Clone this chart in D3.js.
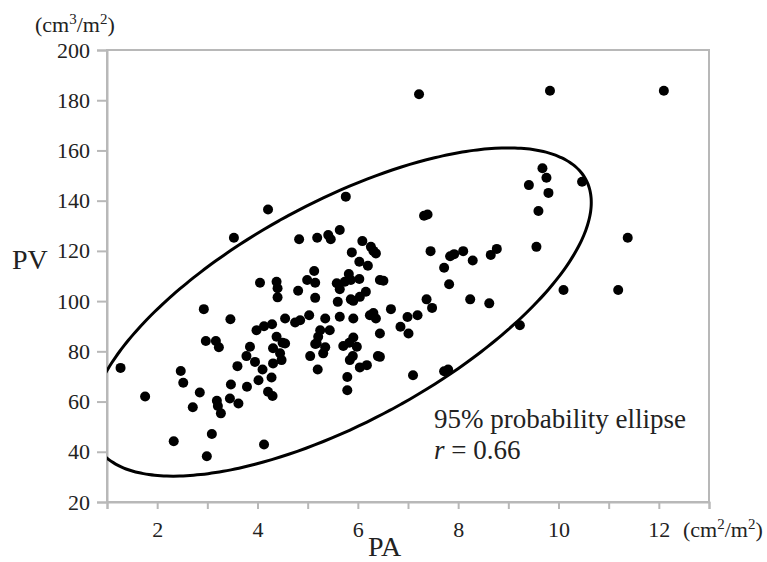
<!DOCTYPE html>
<html>
<head>
<meta charset="utf-8">
<script src="https://cdn.jsdelivr.net/npm/d3@7"></script>
<style>
  body { margin: 0; background: #fff; }
  svg text { font-family: "Liberation Serif", serif; fill: #222; }
</style>
</head>
<body>
<div id="chart"></div>
<script>
// data ///////////////////////////////////////////////////////////////
// PA (cm2/m2) and PV (cm3/m2), one pair per patient
const pa = [
  1.27, 1.76, 2.47, 2.52, 2.33, 2.85, 2.93, 2.97, 3.17, 3.23, 2.71, 3.09, 2.99,
  3.19, 3.21, 3.27, 3.46, 3.47, 3.45, 3.62, 3.60, 3.53, 3.78, 3.95, 3.85, 3.79,
  3.98, 4.13, 4.29, 4.10, 4.02, 4.21, 4.30, 4.28, 4.13, 4.21, 4.05, 4.38, 4.40,
  4.40, 4.31, 4.50, 4.55, 4.45, 4.48, 4.31, 4.38, 4.55, 4.75, 4.81, 4.83, 4.85,
  5.03, 4.99, 5.15, 5.13, 5.15, 5.19, 5.41, 5.46, 5.64, 5.35, 5.25, 5.21, 5.18,
  5.44, 5.15, 5.35, 5.31, 5.05, 5.20, 5.71, 5.83, 5.98, 5.90, 5.84, 6.04, 6.18,
  6.40, 5.79, 5.79, 5.76, 5.91, 5.64, 5.91, 5.60, 5.82, 5.74, 5.58, 5.64, 5.86,
  6.03, 6.16, 6.04, 5.91, 5.86, 5.88, 6.09, 6.26, 6.31, 6.36, 6.03, 6.20, 6.31,
  6.24, 6.36, 6.44, 6.51, 6.44, 6.44, 6.66, 6.85, 7.01, 6.99, 7.19, 7.10, 7.22,
  7.32, 7.39, 7.45, 7.84, 7.92, 8.10, 8.29, 7.72, 8.65, 8.77, 7.82, 7.37, 7.48,
  8.24, 8.62, 7.72, 7.80, 9.23, 9.68, 9.76, 9.41, 9.80, 9.60, 9.56, 9.83, 10.47,
  11.38, 10.10, 11.19, 12.10
];
const pv = [
  73.4, 62.0, 72.2, 67.5, 44.2, 63.6, 96.8, 84.1, 84.1, 81.6, 57.7, 47.1, 38.2,
  60.3, 58.2, 55.3, 92.8, 66.8, 61.2, 59.2, 74.1, 125.2, 78.1, 75.8, 81.8, 65.9,
  88.4, 90.0, 90.8, 72.8, 68.5, 63.9, 62.2, 69.6, 42.9, 136.5, 107.3, 107.7, 105.1,
  101.5, 81.2, 83.4, 83.1, 79.2, 76.5, 75.2, 85.8, 93.1, 91.5, 104.1, 124.6, 92.4,
  94.4, 108.4, 107.3, 112.0, 101.3, 125.2, 126.3, 124.6, 128.3, 93.1, 88.4, 85.8, 83.1,
  88.4, 82.9, 81.6, 79.2, 78.1, 72.8, 82.1, 83.4, 81.8, 78.1, 76.5, 73.6, 74.5,
  78.1, 69.8, 64.5, 141.6, 85.5, 93.8, 93.1, 99.7, 110.8, 107.7, 107.1, 104.7, 108.4,
  108.8, 103.7, 101.7, 100.1, 100.7, 119.4, 123.9, 121.6, 120.0, 119.0, 115.7, 114.1, 95.3,
  94.4, 93.1, 108.4, 108.1, 87.1, 77.8, 96.8, 89.8, 87.1, 93.7, 94.4, 70.5, 182.4,
  134.0, 134.5, 119.9, 117.9, 118.7, 119.9, 116.2, 113.3, 118.4, 120.8, 106.7, 100.7, 97.3,
  100.7, 99.1, 72.1, 72.8, 90.4, 152.9, 149.1, 146.2, 143.1, 135.9, 121.6, 183.8, 147.5,
  125.2, 104.4, 104.4, 183.8
];

// axis ticks
const xTicks = [1, 2, 3, 4, 5, 6, 7, 8, 9, 10, 11, 12, 13];
const xTickLabels = ["", "2", "", "4", "", "6", "", "8", "", "10", "", "12", ""];
const yTicks = [20, 40, 60, 80, 100, 120, 140, 160, 180, 200];

// 95% probability ellipse (bivariate normal)
const meanPA = 5.66, meanPV = 95.65;
const sdPA = 2.04, sdPV = 26.7;
const ellipseRho = 0.668;
const chi2_95 = 5.991;
const rLabel = "0.66";

// layout ///////////////////////////////////////////////////////////////
const width = 767, height = 562;
const plotLeft = 107, plotRight = 709, plotTop = 50, plotBottom = 502;
const axisGrey = "#b8b8b8";
const serif = "'Liberation Serif', serif";

const svg = d3.select("#chart")
  .append("svg")
  .attr("width", width)
  .attr("height", height);

const x = d3.scaleLinear().domain([1, 13]).range([plotLeft, plotRight]);
const y = d3.scaleLinear().domain([20, 200]).range([plotBottom, plotTop]);

// frame
svg.append("rect")
  .attr("x", plotLeft)
  .attr("y", plotTop)
  .attr("width", plotRight - plotLeft)
  .attr("height", plotBottom - plotTop)
  .attr("fill", "none")
  .attr("stroke", axisGrey)
  .attr("stroke-width", 2);

// y axis
const yAxis = svg.append("g")
  .attr("transform", `translate(${plotLeft},0)`)
  .call(d3.axisLeft(y).tickValues(yTicks).tickSize(10).tickPadding(7));
yAxis.select(".domain").attr("stroke", axisGrey).attr("stroke-width", 2);
yAxis.selectAll(".tick line").attr("stroke", axisGrey).attr("stroke-width", 2);
yAxis.selectAll(".tick text")
  .style("font-family", serif)
  .style("font-size", "22px")
  .attr("fill", "#222");

// x axis
const xAxis = svg.append("g")
  .attr("transform", `translate(0,${plotBottom})`)
  .call(d3.axisBottom(x).tickValues(xTicks).tickSize(7).tickPadding(12)
    .tickFormat((d, i) => xTickLabels[i]));
xAxis.select(".domain").attr("stroke", axisGrey).attr("stroke-width", 2);
xAxis.selectAll(".tick line").attr("stroke", axisGrey).attr("stroke-width", 2);
xAxis.selectAll(".tick text")
  .style("font-family", serif)
  .style("font-size", "22px")
  .attr("fill", "#222");

// units with superscripts
function unitLabel(xPos, yPos, power) {
  const t = svg.append("text")
    .attr("x", xPos).attr("y", yPos)
    .style("font-family", serif)
    .style("font-size", "22px");
  t.append("tspan").text("(cm");
  t.append("tspan").attr("dy", -8).style("font-size", "15px").text(power);
  t.append("tspan").attr("dy", 8).text("/m");
  t.append("tspan").attr("dy", -8).style("font-size", "15px").text("2");
  t.append("tspan").attr("dy", 8).text(")");
}
unitLabel(35, 32, "3");
unitLabel(683, 537, "2");

// axis titles
svg.append("text")
  .attr("x", 12).attr("y", 269)
  .style("font-family", serif)
  .style("font-size", "28px")
  .text("PV");

svg.append("text")
  .attr("x", 368).attr("y", 556)
  .style("font-family", serif)
  .style("font-size", "28px")
  .text("PA");

// clip for the ellipse
svg.append("clipPath")
  .attr("id", "plotClip")
  .append("rect")
  .attr("x", plotLeft).attr("y", plotTop)
  .attr("width", plotRight - plotLeft).attr("height", plotBottom - plotTop);

// ellipse
const k = Math.sqrt(chi2_95);
const ellipsePts = d3.range(0, 360, 2).map(deg => {
  const t = deg * Math.PI / 180;
  return [
    meanPA + sdPA * k * Math.cos(t),
    meanPV + sdPV * k * (ellipseRho * Math.cos(t) + Math.sqrt(1 - ellipseRho * ellipseRho) * Math.sin(t))
  ];
});

svg.append("path")
  .datum(ellipsePts)
  .attr("clip-path", "url(#plotClip)")
  .attr("fill", "none")
  .attr("stroke", "#000")
  .attr("stroke-width", 3)
  .attr("d", d3.line().x(d => x(d[0])).y(d => y(d[1])).curve(d3.curveCardinalClosed));

// dots
svg.append("g")
  .selectAll("circle")
  .data(d3.zip(pa, pv))
  .join("circle")
  .attr("cx", d => x(d[0]))
  .attr("cy", d => y(d[1]))
  .attr("r", 5)
  .attr("fill", "#000");

// annotation
svg.append("text")
  .attr("x", 434).attr("y", 428)
  .style("font-family", serif)
  .style("font-size", "27px")
  .text("95% probability ellipse");

const rText = svg.append("text")
  .attr("x", 434).attr("y", 459)
  .style("font-family", serif)
  .style("font-size", "27px");
rText.append("tspan").attr("font-style", "italic").text("r");
rText.append("tspan").text(" = " + rLabel);
</script>
</body>
</html>
